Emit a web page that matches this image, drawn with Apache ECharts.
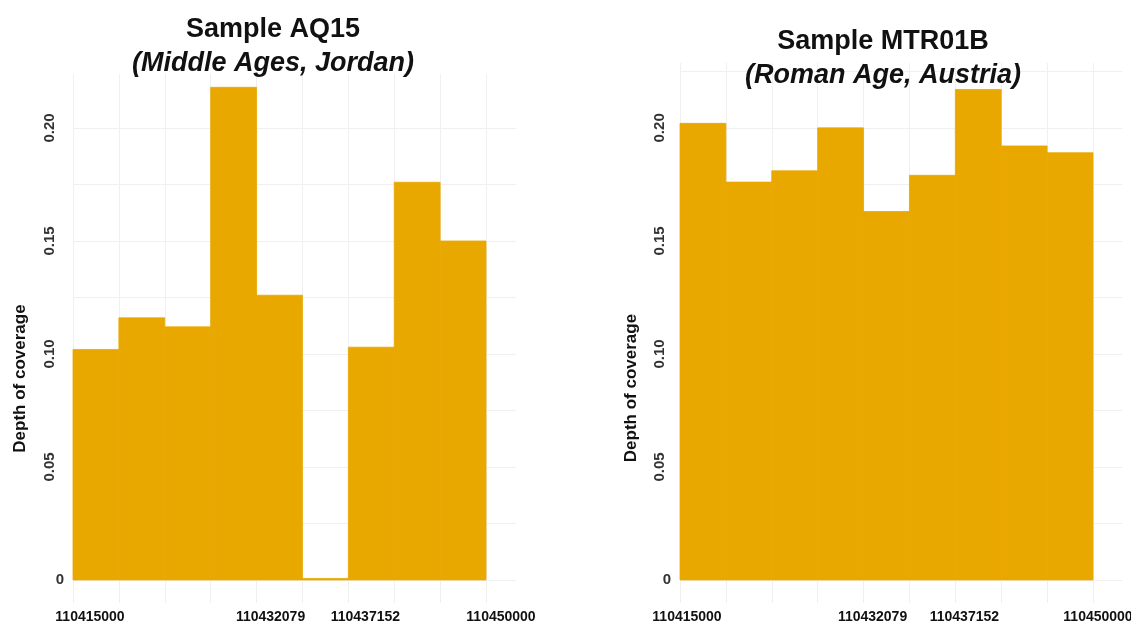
<!DOCTYPE html>
<html><head><meta charset="utf-8">
<script src="https://cdn.jsdelivr.net/npm/echarts@6/dist/echarts.min.js"></script>
<style>html,body{margin:0;padding:0;background:#fff}#c{width:1131px;height:623px}</style>
</head><body><div id="c"></div>
<script>
// ---- data ----
const binEdges = [110415000,110418889,110422778,110426667,110430556,110434444,110438333,110442222,110446111,110450000];
const depthAQ15   = [0.102,0.116,0.112,0.218,0.126,0.000,0.103,0.176,0.150];
const depthMTR01B = [0.202,0.176,0.181,0.200,0.163,0.179,0.217,0.192,0.189];
const xTickLabels = [110415000,110432079,110437152,110450000];
const yTickLabels = [0.05,0.10,0.15,0.20];
const yZeroLabel  = [0];
const yGridValues = [0,0.025,0.05,0.075,0.10,0.125,0.15,0.175,0.20,0.225];
const titles    = ['Sample AQ15','Sample MTR01B'];
const subtitles = ['(Middle Ages, Jordan)','(Roman Age, Austria)'];
const yName = 'Depth of coverage';

// ---- styles / layout ----
const FONT = '"Liberation Sans", Arial, sans-serif';
const BAR = '#E9A800';
const GRID = '#f0f0f0';

const panels = [
  {vals: depthAQ15,   grid:{left:73, right:615.5, top:74, bottom:20}, ymax:0.2239, title:{x:268, top:11},
   labShift:[17,-4,31,15], nameGap:44, namePad:80, labMargin:16},
  {vals: depthMTR01B, grid:{left:680, right:8.5, top:63, bottom:20}, ymax:0.2287, title:{x:878, top:23},
   labShift:[7,-9,23,5], nameGap:40, namePad:110, labMargin:13}
];
const YMIN = -0.0102, XMAX = 110452500;

function renderBar(params, api){
  const x0 = api.value(0), x1 = api.value(1), v = api.value(2);
  const p0 = api.coord([x0, v]);
  const p1 = api.coord([x1, 0]);
  let y = p0[1], h = p1[1] - p0[1];
  if (h < 1.5) { h = 1.5; y = p1[1] - 1.5; }
  return {type:'rect', shape:{x:p0[0], y:y, width:p1[0]-p0[0], height:h},
          style:{fill: BAR, stroke: BAR, lineWidth: 0.8}};
}

const option = {
  backgroundColor:'#fff',
  animation:false,
  textStyle:{fontFamily:FONT},
  title: [], grid: [], xAxis: [], yAxis: [], series: []
};

panels.forEach((p, i) => {
  option.title.push({
    text: titles[i], subtext: subtitles[i],
    left: p.title.x, top: p.title.top, textAlign:'center', itemGap: 7,
    textStyle:{fontFamily:FONT, fontSize:27, fontWeight:'bold', color:'#111'},
    subtextStyle:{fontFamily:FONT, fontSize:27, fontWeight:'bold', fontStyle:'italic', color:'#111'}
  });
  option.grid.push(Object.assign({containLabel:false, outerBoundsMode:'none'}, p.grid));
  const rich = {};
  p.labShift.forEach((s, k) => {
    rich['s' + k] = {fontFamily:FONT, fontSize:14, fontWeight:'bold', color:'#111',
      padding: s >= 0 ? [0,0,0,2*s] : [0,-2*s,0,0]};
  });
  option.xAxis.push({
    type:'value', gridIndex:i, min:binEdges[0], max:XMAX,
    axisLine:{show:false},
    axisTick:{show:false, customValues: binEdges},
    splitLine:{show:true, lineStyle:{color:GRID, width:1}},
    axisLabel:{customValues: xTickLabels, margin:7, fontFamily:FONT, fontSize:14, fontWeight:'bold', color:'#111',
      hideOverlap:false, rich: rich,
      formatter: v => '{s' + xTickLabels.indexOf(v) + '|' + v + '}'}
  });
  option.yAxis.push({
    type:'value', gridIndex:i, min:YMIN, max:p.ymax,
    name: yName, nameLocation:'middle', nameGap: p.nameGap, nameRotate: 90,
    nameTextStyle:{fontFamily:FONT, fontSize:17, fontWeight:'bold', color:'#111', padding:[0,p.namePad,0,0]},
    axisLine:{show:false},
    axisTick:{show:false, customValues: yGridValues},
    splitLine:{show:true, lineStyle:{color:GRID, width:1}},
    axisLabel:{customValues: yTickLabels, rotate:90, margin:p.labMargin, fontFamily:FONT, fontSize:15, fontWeight:'bold', color:'#333',
      formatter: v => v.toFixed(2)}
  });
  option.yAxis.push({
    type:'value', gridIndex:i, min:YMIN, max:p.ymax, position:'left',
    axisLine:{show:false}, axisTick:{show:false}, splitLine:{show:false},
    axisLabel:{customValues: yZeroLabel, margin:9, fontFamily:FONT, fontSize:15, fontWeight:'bold', color:'#333',
      padding:[14,0,0,0], formatter: v => '0'}
  });
  option.series.push({
    type:'custom', xAxisIndex:i, yAxisIndex:i*2,
    renderItem: renderBar,
    encode:{x:[0,1], y:2},
    data: binEdges.slice(0,-1).map((s,k) => [s, binEdges[k+1], p.vals[k]])
  });
});

const chart = echarts.init(document.getElementById('c'), null, {renderer:'canvas'});
chart.setOption(option);
</script>
</body></html>
